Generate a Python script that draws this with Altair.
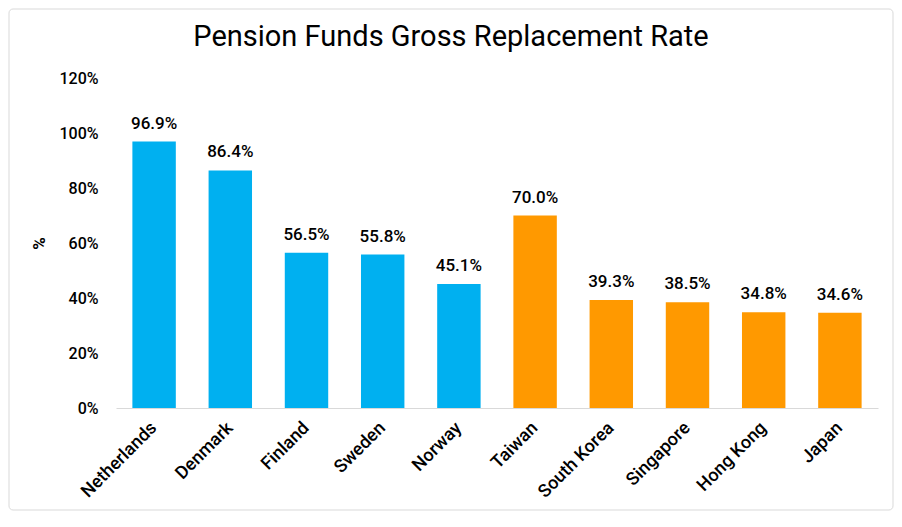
import altair as alt
import pandas as pd

countries = ["Netherlands", "Denmark", "Finland", "Sweden", "Norway",
             "Taiwan", "South Korea", "Singapore", "Hong Kong", "Japan"]
values = [96.9, 86.4, 56.5, 55.8, 45.1, 70.0, 39.3, 38.5, 34.8, 34.6]
groups = ["Europe"] * 5 + ["Asia"] * 5

df = pd.DataFrame({"country": countries, "value": values, "group": groups})
df["label"] = df["value"].map(lambda v: f"{v:.1f}%")
df["frac"] = df["value"] / 100.0

FONT = "Roboto"
W, H = 762, 330

base = alt.Chart(df)

x = alt.X("country:N", sort=countries, title=None,
          scale=alt.Scale(paddingInner=0.43, paddingOuter=0.215),
          axis=alt.Axis(labelAngle=-45, labelFontSize=18, labelColor="#000000",
                        labelFont=FONT, labelFontWeight=500, ticks=False,
                        domainColor="#D9D9D9",
                        labelBaseline="middle", labelAlign="right",
                        labelPadding=17))
y = alt.Y("frac:Q", title="%",
          scale=alt.Scale(domain=[0, 1.2]),
          axis=alt.Axis(format=".0%", values=[0, 0.2, 0.4, 0.6, 0.8, 1.0, 1.2],
                        grid=False, ticks=False, domain=False,
                        labelFontSize=16, labelColor="#000000", labelFont=FONT,
                        labelFontWeight=500,
                        labelPadding=18, titleFontSize=17, titleFont=FONT,
                        titleColor="#000000", titlePadding=10))

bars = base.mark_bar().encode(
    x=x, y=y,
    color=alt.Color("group:N", scale=alt.Scale(domain=["Europe", "Asia"],
                                               range=["#00B0F0", "#FF9900"]),
                    legend=None),
)

labels = base.mark_text(baseline="bottom", dy=-9, fontSize=17, font=FONT,
                        fontWeight=500, color="#000000").encode(
    x=alt.X("country:N", sort=countries),
    y="frac:Q",
    text="label:N",
)

border = alt.Chart(pd.DataFrame({"k": [0]})).mark_rect(
    fill=None, stroke="#D9D9D9", strokeWidth=1, cornerRadius=4).encode(
    x=alt.value(-107), x2=alt.value(W + 15),
    y=alt.value(-69), y2=alt.value(H + 102),
)

chart = alt.layer(border, bars, labels).properties(
    width=W, height=H,
    background="white",
    title=alt.TitleParams("Pension Funds Gross Replacement Rate", fontSize=29,
                          font=FONT, fontWeight="normal", color="#000000",
                          anchor="middle", dx=-46, offset=-43),
    padding={"left": 108, "top": 70, "right": 16, "bottom": 103},
    autosize="none",
).configure_view(strokeWidth=0)

chart.save("out.html", embed_options={"renderer": "svg", "actions": False})
